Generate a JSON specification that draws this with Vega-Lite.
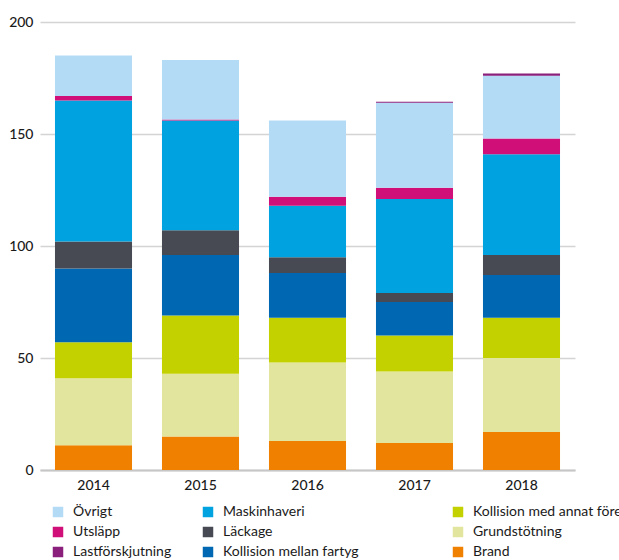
{
  "$schema": "https://vega.github.io/schema/vega-lite/v6.json",
  "width": 535,
  "height": 448,
  "padding": {"left": 8, "top": 15, "right": 0, "bottom": 0},
  "background": "white",
  "config": {"view": {"stroke": null}, "font": "Lato"},
  "data": {
    "values": [
      {"year": "2014", "typ": "Brand", "value": 11},
      {"year": "2014", "typ": "Grundstötning", "value": 30},
      {"year": "2014", "typ": "Kollision med annat föremål", "value": 16},
      {"year": "2014", "typ": "Kollision mellan fartyg", "value": 33},
      {"year": "2014", "typ": "Läckage", "value": 12},
      {"year": "2014", "typ": "Maskinhaveri", "value": 63},
      {"year": "2014", "typ": "Utsläpp", "value": 2},
      {"year": "2014", "typ": "Övrigt", "value": 18},
      {"year": "2015", "typ": "Brand", "value": 15},
      {"year": "2015", "typ": "Grundstötning", "value": 28},
      {"year": "2015", "typ": "Kollision med annat föremål", "value": 26},
      {"year": "2015", "typ": "Kollision mellan fartyg", "value": 27},
      {"year": "2015", "typ": "Läckage", "value": 11},
      {"year": "2015", "typ": "Maskinhaveri", "value": 49},
      {"year": "2015", "typ": "Utsläpp", "value": 0.5},
      {"year": "2015", "typ": "Övrigt", "value": 26.5},
      {"year": "2016", "typ": "Brand", "value": 13},
      {"year": "2016", "typ": "Grundstötning", "value": 35},
      {"year": "2016", "typ": "Kollision med annat föremål", "value": 20},
      {"year": "2016", "typ": "Kollision mellan fartyg", "value": 20},
      {"year": "2016", "typ": "Läckage", "value": 7},
      {"year": "2016", "typ": "Maskinhaveri", "value": 23},
      {"year": "2016", "typ": "Utsläpp", "value": 4},
      {"year": "2016", "typ": "Övrigt", "value": 34},
      {"year": "2017", "typ": "Brand", "value": 12},
      {"year": "2017", "typ": "Grundstötning", "value": 32},
      {"year": "2017", "typ": "Kollision med annat föremål", "value": 16},
      {"year": "2017", "typ": "Kollision mellan fartyg", "value": 15},
      {"year": "2017", "typ": "Läckage", "value": 4},
      {"year": "2017", "typ": "Maskinhaveri", "value": 42},
      {"year": "2017", "typ": "Utsläpp", "value": 5},
      {"year": "2017", "typ": "Övrigt", "value": 38},
      {"year": "2017", "typ": "Lastförskjutning", "value": 0.4},
      {"year": "2018", "typ": "Brand", "value": 17},
      {"year": "2018", "typ": "Grundstötning", "value": 33},
      {"year": "2018", "typ": "Kollision med annat föremål", "value": 18},
      {"year": "2018", "typ": "Kollision mellan fartyg", "value": 19},
      {"year": "2018", "typ": "Läckage", "value": 9},
      {"year": "2018", "typ": "Maskinhaveri", "value": 45},
      {"year": "2018", "typ": "Utsläpp", "value": 7},
      {"year": "2018", "typ": "Övrigt", "value": 28},
      {"year": "2018", "typ": "Lastförskjutning", "value": 1}
    ]
  },
  "transform": [
    {"calculate": "indexof(['Brand', 'Grundstötning', 'Kollision med annat föremål', 'Kollision mellan fartyg', 'Läckage', 'Maskinhaveri', 'Utsläpp', 'Övrigt', 'Lastförskjutning'], datum.typ)", "as": "stackRank"}
  ],
  "mark": {"type": "bar"},
  "encoding": {
    "x": {
      "field": "year",
      "type": "ordinal",
      "scale": {"paddingInner": 0.28, "paddingOuter": 0.14},
      "axis": {
        "title": null,
        "labelAngle": 0,
        "ticks": false,
        "domainColor": "#c6c6c6",
        "domainWidth": 2,
        "labelFontSize": 14,
        "labelFontWeight": 500,
        "labelColor": "#1a1a1a",
        "labelPadding": 8
      }
    },
    "y": {
      "field": "value",
      "type": "quantitative",
      "stack": "zero",
      "scale": {"domain": [0, 200]},
      "axis": {
        "title": null,
        "values": [0, 50, 100, 150, 200],
        "ticks": false,
        "domain": false,
        "gridColor": "#d4d4d4",
        "gridWidth": 1.5,
        "labelFontSize": 14,
        "labelFontWeight": 500,
        "labelPadding": 7,
        "labelColor": "#1a1a1a"
      }
    },
    "order": {"field": "stackRank", "type": "quantitative", "sort": "ascending"},
    "color": {
      "field": "typ",
      "type": "nominal",
      "scale": {
        "domain": ["Övrigt", "Utsläpp", "Lastförskjutning", "Maskinhaveri", "Läckage", "Kollision mellan fartyg", "Kollision med annat föremål", "Grundstötning", "Brand"],
        "range": ["#b3dbf5", "#d01078", "#8a1f7c", "#00a3e0", "#484a53", "#0068b2", "#c3d100", "#e2e59d", "#f08100"]
      },
      "legend": {
        "orient": "none",
        "legendX": 11,
        "legendY": 483,
        "title": null,
        "columns": 3,
        "padding": 0,
        "symbolType": "square",
        "symbolSize": 110,
        "symbolStrokeWidth": 0,
        "labelFontSize": 14,
        "labelColor": "#1a1a1a",
        "labelOffset": 8,
        "rowPadding": 6,
        "columnPadding": 29,
        "labelLimit": 400,
        "labelExpr": "datum.label == 'Kollision mellan fartyg' ? datum.label + '\u2003\u2003\u2003\u2003\u2003\u2003\u200b' : datum.label"
      }
    }
  }
}
